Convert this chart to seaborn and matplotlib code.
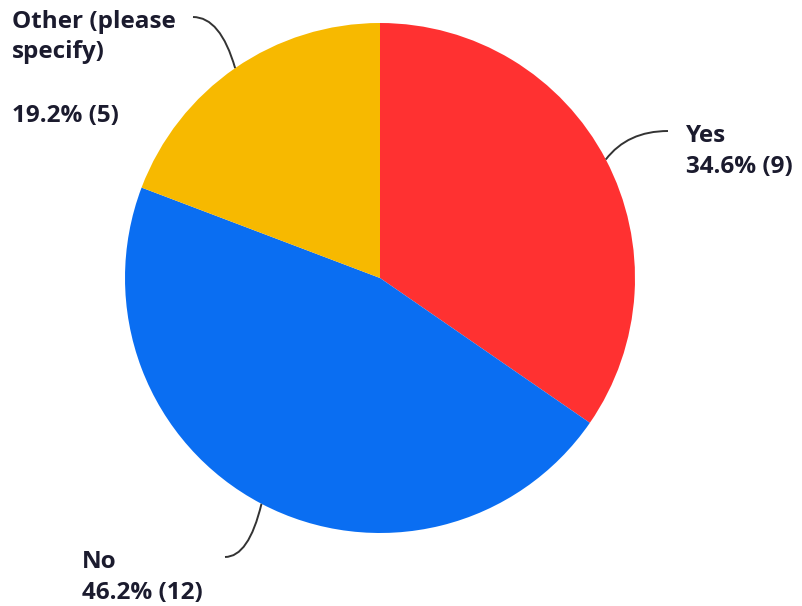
import numpy as np
import matplotlib
matplotlib.use("Agg")
import matplotlib.pyplot as plt
from matplotlib.path import Path
from matplotlib.patches import PathPatch
import seaborn as sns

# Survey answers
categories = ["Yes", "No", "Other (please\nspecify)"]
counts = [9, 12, 5]
slice_colors = ["#FF3131", "#0A6EF2", "#F7B900"]

sns.set_theme(style="white")
plt.rcParams["font.family"] = ["Open Sans", "DejaVu Sans"]

W, H = 802, 606
fig = plt.figure(figsize=(W / 100, H / 100), dpi=100)
ax = fig.add_axes([0, 0, 1, 1])

cx, cy, r = 380, H - 278, 255
wedges, _ = ax.pie(counts, colors=slice_colors, startangle=90, counterclock=False,
                   center=(cx, cy), radius=r, wedgeprops=dict(linewidth=0))
ax.set_xlim(0, W)
ax.set_ylim(0, H)
ax.set_aspect("equal")
ax.axis("off")

total = sum(counts)
text_color = "#1B1B2E"
fs = 17.5

# label anchors (image pixel coords): line end, text left x, baselines
layout = {
    0: dict(end=(668, 131), x=686, baselines=[141.5, 173.5]),
    1: dict(end=(225, 557), x=82, baselines=[568, 599.5]),
    2: dict(end=(193, 17), x=12, baselines=[28.5, 58.5, 122]),
}

for i, w in enumerate(wedges):
    mid = np.deg2rad((w.theta1 + w.theta2) / 2)
    p0 = (cx + r * np.cos(mid), cy + r * np.sin(mid))
    ex, ey = layout[i]["end"]
    p2 = (ex, H - ey)
    # curved leader: leaves the wedge edge and flattens out toward the label
    p1 = (p0[0] + 0.35 * (p2[0] - p0[0]), p2[1])
    path = Path([p0, p1, p2], [Path.MOVETO, Path.CURVE3, Path.CURVE3])
    ax.add_patch(PathPatch(path, facecolor="none", edgecolor="#333333", linewidth=1.4))

    pct = f"{100 * counts[i] / total:.1f}% ({counts[i]})"
    lines = categories[i].split("\n") + [pct]
    for line, b in zip(lines, layout[i]["baselines"]):
        ax.text(layout[i]["x"], H - b, line, fontsize=fs, fontweight="bold",
                color=text_color, ha="left", va="baseline")

fig.savefig("out.png", dpi=100, facecolor="white")
